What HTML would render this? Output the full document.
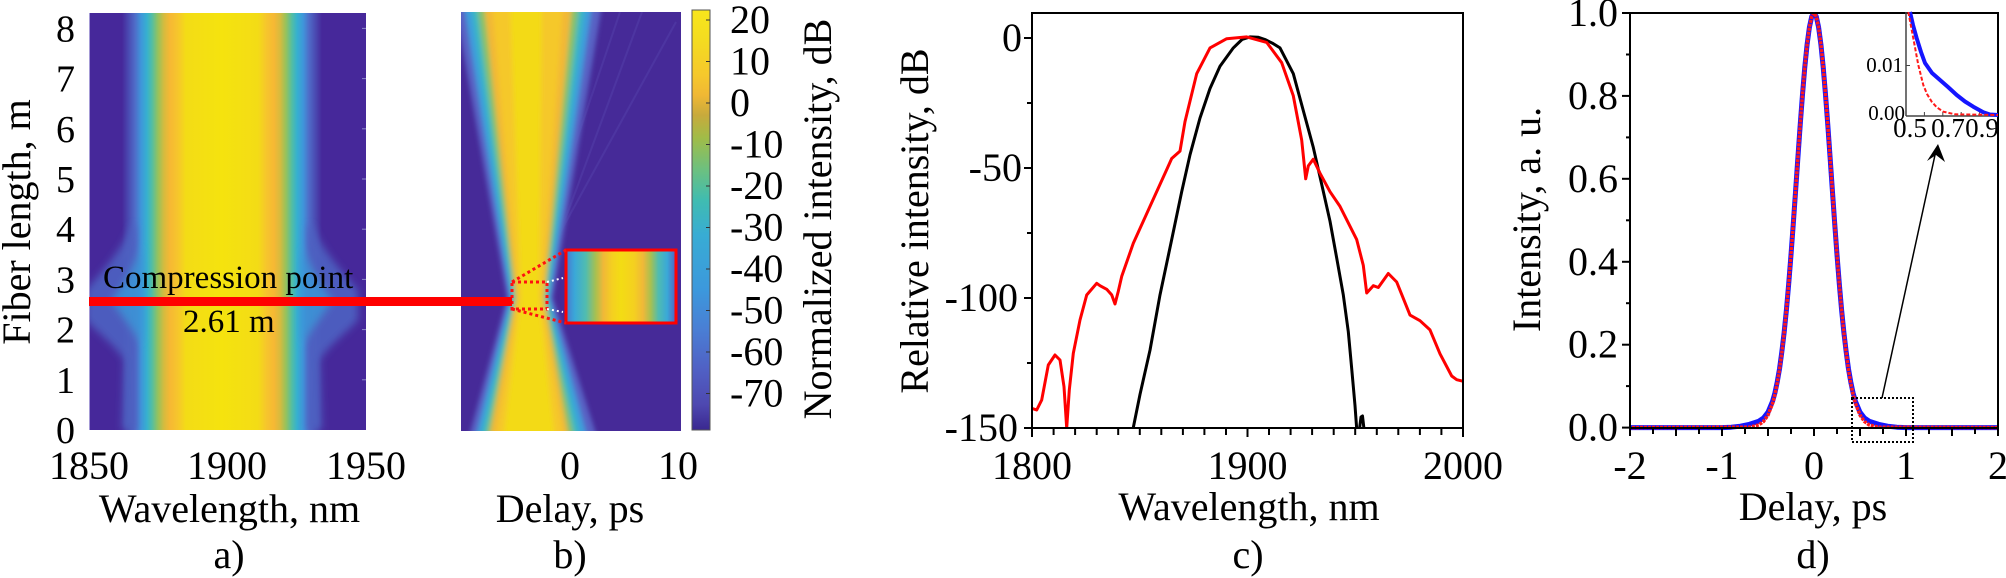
<!DOCTYPE html>
<html><head><meta charset="utf-8"><style>
html,body{margin:0;padding:0;background:#fff;}
svg{display:block;font-family:"Liberation Serif","Times New Roman",Times,"Noto Serif CJK SC","DejaVu Serif",serif;}
svg text{font-family:"Liberation Serif","Times New Roman",Times,"Noto Serif CJK SC","DejaVu Serif",serif;fill:#000;}
</style></head><body>
<svg width="2006" height="578" viewBox="0 0 2006 578" xmlns="http://www.w3.org/2000/svg" font-family="Liberation Serif, Times New Roman, Noto Serif CJK SC, serif">
<defs>
<linearGradient id="gA" gradientUnits="userSpaceOnUse" x1="89" y1="0" x2="366" y2="0">
<stop offset="0" stop-color="#46289a"/>
<stop offset="0.119" stop-color="#46289a"/>
<stop offset="0.141" stop-color="#4a48b0"/>
<stop offset="0.166" stop-color="#4f6cc8"/>
<stop offset="0.188" stop-color="#3f96da"/>
<stop offset="0.209" stop-color="#36b0cf"/>
<stop offset="0.227" stop-color="#52bea4"/>
<stop offset="0.249" stop-color="#96c25c"/>
<stop offset="0.271" stop-color="#d6bb3e"/>
<stop offset="0.292" stop-color="#f6b834"/>
<stop offset="0.321" stop-color="#f6c62c"/>
<stop offset="0.350" stop-color="#f3dc16"/>
<stop offset="0.480" stop-color="#f5e30e"/>
<stop offset="0.610" stop-color="#f3dc16"/>
<stop offset="0.639" stop-color="#f6c62c"/>
<stop offset="0.668" stop-color="#f6b834"/>
<stop offset="0.690" stop-color="#d6bb3e"/>
<stop offset="0.711" stop-color="#96c25c"/>
<stop offset="0.733" stop-color="#52bea4"/>
<stop offset="0.751" stop-color="#36b0cf"/>
<stop offset="0.773" stop-color="#3f96da"/>
<stop offset="0.794" stop-color="#4f6cc8"/>
<stop offset="0.819" stop-color="#4a48b0"/>
<stop offset="0.841" stop-color="#46289a"/>
<stop offset="1" stop-color="#46289a"/>
</linearGradient>
<linearGradient id="gC" gradientUnits="userSpaceOnUse" x1="0" y1="10" x2="0" y2="430">
<stop offset="0" stop-color="#f8e61c"/>
<stop offset="0.071" stop-color="#f4dc20"/>
<stop offset="0.155" stop-color="#f5c82c"/>
<stop offset="0.202" stop-color="#f0b834"/>
<stop offset="0.250" stop-color="#c8aa3c"/>
<stop offset="0.305" stop-color="#a0bc48"/>
<stop offset="0.381" stop-color="#6cc080"/>
<stop offset="0.452" stop-color="#40bcb0"/>
<stop offset="0.536" stop-color="#38acd4"/>
<stop offset="0.667" stop-color="#3c98dc"/>
<stop offset="0.762" stop-color="#4a7ed4"/>
<stop offset="0.857" stop-color="#5060c4"/>
<stop offset="0.940" stop-color="#4e48b0"/>
<stop offset="1" stop-color="#3a2890"/>
</linearGradient>
<linearGradient id="gI" gradientUnits="userSpaceOnUse" x1="566" y1="0" x2="676" y2="0">
<stop offset="0" stop-color="#4a78d0"/>
<stop offset="0.08" stop-color="#3aa8d8"/>
<stop offset="0.18" stop-color="#50bcb0"/>
<stop offset="0.27" stop-color="#a8c050"/>
<stop offset="0.34" stop-color="#f0b838"/>
<stop offset="0.42" stop-color="#f4d020"/>
<stop offset="0.50" stop-color="#f3dc14"/>
<stop offset="0.62" stop-color="#f4d020"/>
<stop offset="0.70" stop-color="#f0b838"/>
<stop offset="0.77" stop-color="#a8c050"/>
<stop offset="0.84" stop-color="#50bcb0"/>
<stop offset="0.92" stop-color="#3aa8d8"/>
<stop offset="1" stop-color="#5060c0"/>
</linearGradient>
<filter id="bl" x="-30%" y="-30%" width="160%" height="160%"><feGaussianBlur stdDeviation="2.5"/></filter>
<filter id="bl4" x="-50%" y="-50%" width="200%" height="200%"><feGaussianBlur stdDeviation="4"/></filter>
<clipPath id="cA"><rect x="89" y="13" width="277" height="417"/></clipPath>
<clipPath id="cB"><rect x="461" y="12" width="220" height="419"/></clipPath>
<clipPath id="cCc"><rect x="1032" y="13" width="431" height="415"/></clipPath>
<clipPath id="cD"><rect x="1630" y="13" width="368" height="418"/></clipPath>
</defs>

<!-- ===== Panel a ===== -->
<g clip-path="url(#cA)">
<rect x="89" y="13" width="277" height="417" fill="url(#gA)"/>
<g filter="url(#bl4)">
  <path d="M132,225 C122,250 102,272 86,290 L86,320 C100,335 115,345 124,360 L122,430 L136,430 L136,225 Z" fill="#4e62c2" opacity="0.9"/>
  <path d="M143,245 C136,265 124,285 112,300 C122,316 134,330 143,345 Z" fill="#3a9ad8" opacity="0.8"/>
  <g transform="translate(444,0) scale(-1,1)">
    <path d="M132,225 C122,250 102,272 86,290 L86,320 C100,335 115,345 124,360 L122,430 L136,430 L136,225 Z" fill="#4e62c2" opacity="0.9"/>
    <path d="M143,245 C136,265 124,285 112,300 C122,316 134,330 143,345 Z" fill="#3a9ad8" opacity="0.8"/>
  </g>
</g>
</g>
<line x1="89.5" y1="13" x2="89.5" y2="430" stroke="#a49ad6" stroke-width="1"/>
<g stroke="#8c86c8" stroke-width="1">
<line x1="362" y1="28.4" x2="366" y2="28.4"/><line x1="362" y1="78.6" x2="366" y2="78.6"/><line x1="362" y1="128.8" x2="366" y2="128.8"/><line x1="362" y1="179" x2="366" y2="179"/><line x1="362" y1="229.2" x2="366" y2="229.2"/><line x1="362" y1="279.4" x2="366" y2="279.4"/><line x1="362" y1="329.6" x2="366" y2="329.6"/><line x1="362" y1="379.8" x2="366" y2="379.8"/>
</g>

<!-- ===== Panel b ===== -->
<g clip-path="url(#cB)">
<rect x="461" y="12" width="220" height="419" fill="#462a98"/>
<g stroke="#5a4cb4" stroke-width="2" opacity="0.35" fill="none">
<line x1="552" y1="255" x2="642" y2="12"/>
<line x1="556" y1="240" x2="676" y2="22"/>
<line x1="548" y1="225" x2="620" y2="12"/>
</g>
<g filter="url(#bl)">
<polygon fill="#5862c4" points="455,5 507,298 468,440 598,440 553,298 602,5"/>
<polygon fill="#3c9edc" points="464,5 510,298 475,440 588,440 550,298 592,5"/>
<polygon fill="#3ab8c2" points="471,5 512,298 480,440 581,440 548,298 585,5"/>
<polygon fill="#86c16a" points="477,5 514,298 485,440 575,440 546,298 579,5"/>
<polygon fill="#f2b834" points="484,5 516,298 489,440 569,440 544,298 572,5"/>
<polygon fill="#f5c82a" points="492,5 518,298 495,440 564,440 542,298 563,5"/>
<polygon fill="#f3da16" points="510,5 521,298 503,440 555,440 539,298 542,5"/>
</g>
</g>
<!-- inset in b -->
<rect x="566" y="250" width="110" height="73" fill="url(#gI)"/>
<rect x="566" y="250" width="110" height="73" fill="none" stroke="#ff0000" stroke-width="3"/>
<rect x="512" y="282" width="35" height="27" fill="none" stroke="#ff1010" stroke-width="3" stroke-dasharray="3 3"/>
<line x1="512" y1="282" x2="566" y2="250" stroke="#ff1010" stroke-width="3" stroke-dasharray="3 3"/>
<line x1="512" y1="309" x2="566" y2="323" stroke="#ff1010" stroke-width="3" stroke-dasharray="3 3"/>
<line x1="547" y1="282" x2="563" y2="278" stroke="#ffffff" stroke-width="2" stroke-dasharray="2 3"/>
<line x1="547" y1="309" x2="563" y2="312" stroke="#ffffff" stroke-width="2" stroke-dasharray="2 3"/>

<!-- red bar -->
<rect x="89" y="297" width="423" height="9" fill="#ff0000"/>
<text x="103" y="288" font-size="33">Compression point</text>
<text x="183" y="332" font-size="33">2.61 m</text>

<!-- colorbar -->
<rect x="692" y="10" width="18" height="420" fill="url(#gC)" stroke="#555" stroke-width="1"/>
<g stroke="#333" stroke-width="1">
<line x1="706" y1="20" x2="710" y2="20"/><line x1="706" y1="61.5" x2="710" y2="61.5"/><line x1="706" y1="103" x2="710" y2="103"/><line x1="706" y1="144.5" x2="710" y2="144.5"/><line x1="706" y1="186" x2="710" y2="186"/><line x1="706" y1="227.5" x2="710" y2="227.5"/><line x1="706" y1="269" x2="710" y2="269"/><line x1="706" y1="310.5" x2="710" y2="310.5"/><line x1="706" y1="352" x2="710" y2="352"/><line x1="706" y1="393.5" x2="710" y2="393.5"/>
</g>
<g font-size="40">
<text x="730" y="33">20</text>
<text x="730" y="74.5">10</text>
<text x="730" y="116">0</text>
<text x="730" y="157.5">-10</text>
<text x="730" y="199">-20</text>
<text x="730" y="240.5">-30</text>
<text x="730" y="282">-40</text>
<text x="730" y="323.5">-50</text>
<text x="730" y="365">-60</text>
<text x="730" y="406.5">-70</text>
</g>
<text font-size="40" text-anchor="middle" transform="translate(831,219) rotate(-90)">Normalized intensity, dB</text>

<!-- panel a/b labels -->
<g font-size="38" text-anchor="end">
<text x="75" y="443">0</text>
<text x="75" y="392.8">1</text>
<text x="75" y="342.6">2</text>
<text x="75" y="292.4">3</text>
<text x="75" y="242.2">4</text>
<text x="75" y="192">5</text>
<text x="75" y="141.8">6</text>
<text x="75" y="91.6">7</text>
<text x="75" y="41.4">8</text>
</g>
<text font-size="40" text-anchor="middle" transform="translate(30,222) rotate(-90)">Fiber length, m</text>
<g font-size="40" text-anchor="middle">
<text x="89" y="479">1850</text>
<text x="227" y="479">1900</text>
<text x="366" y="479">1950</text>
<text x="229.5" y="522">Wavelength, nm</text>
<text x="229" y="568">a)</text>
<text x="570" y="479">0</text>
<text x="678" y="479">10</text>
<text x="570" y="522">Delay, ps</text>
<text x="570" y="568">b)</text>
</g>

<!-- ===== Panel c ===== -->
<g clip-path="url(#cCc)" fill="none" stroke-linejoin="round" stroke-linecap="round">
<path stroke="#000" stroke-width="3" d="M1133.3,427.6 L1140,394.4 1150,350.2 1160,294.9 1171.7,239.6 1181.7,191.7 1190,154.8 1200,118 1210,88.5 1220,66.3 1233.3,47.9 1242,39.5 1250,36.9 1258,37.2 1265,39.5 1273,43.5 1280,47.9 1293.3,73.7 1303.3,110.6 1313.3,147.4 1321.7,184.3 1330,221.2 1336.7,258 1343.3,294.9 1348.3,331.7 1351.7,368.6 1355,405.5 1356.7,429 M1359.5,429 L1361,417 1362.5,416 1364,429"/>
<path stroke="#ff0000" stroke-width="3" d="M1031.7,408.3 L1036.7,410 1041.7,400 1048.3,365 1055,355 1060,360 1064,386.7 1066.7,428 1069.3,390 1073.3,353.3 1080,320 1086.7,295 1096.7,283.3 1100,285.7 1106.7,289.3 1111.7,294.9 1115,304 1118.3,291.2 1121.7,276.4 1133.3,243.3 1150,206.4 1166.7,169.6 1171.7,158.5 1180,151.1 1185,121.6 1196.7,73.7 1210,47.9 1226.7,38.7 1246.7,36.9 1266.7,42.4 1281.7,62.7 1293.3,95.8 1301.7,140.1 1305.7,178.8 1308.3,165.9 1313.3,159.2 1320,173.2 1330,191.7 1340,206.4 1356.7,239.6 1363.3,265.4 1366.7,293 1373.3,285.7 1378.3,287.5 1388.3,273.5 1396.7,282 1410,315.1 1420,320.7 1430,329.9 1440,353.8 1451.7,376 1456.7,379.7 1464,381.5"/>
</g>
<rect x="1032" y="13" width="431" height="415" fill="none" stroke="#000" stroke-width="2"/>
<g stroke="#000" stroke-width="2">
<line x1="1024" y1="38" x2="1032" y2="38"/><line x1="1027" y1="103" x2="1032" y2="103"/><line x1="1024" y1="168" x2="1032" y2="168"/><line x1="1027" y1="233" x2="1032" y2="233"/><line x1="1024" y1="298" x2="1032" y2="298"/><line x1="1027" y1="363" x2="1032" y2="363"/><line x1="1024" y1="428" x2="1032" y2="428"/>
<line x1="1032" y1="428" x2="1032" y2="437"/><line x1="1053.6" y1="428" x2="1053.6" y2="435"/><line x1="1075.1" y1="428" x2="1075.1" y2="435"/><line x1="1096.7" y1="428" x2="1096.7" y2="435"/><line x1="1118.2" y1="428" x2="1118.2" y2="435"/><line x1="1139.8" y1="428" x2="1139.8" y2="435"/><line x1="1161.3" y1="428" x2="1161.3" y2="435"/><line x1="1182.9" y1="428" x2="1182.9" y2="435"/><line x1="1204.4" y1="428" x2="1204.4" y2="435"/><line x1="1226" y1="428" x2="1226" y2="435"/><line x1="1247.5" y1="428" x2="1247.5" y2="437"/><line x1="1269" y1="428" x2="1269" y2="435"/><line x1="1290.6" y1="428" x2="1290.6" y2="435"/><line x1="1312.1" y1="428" x2="1312.1" y2="435"/><line x1="1333.7" y1="428" x2="1333.7" y2="435"/><line x1="1355.2" y1="428" x2="1355.2" y2="435"/><line x1="1376.8" y1="428" x2="1376.8" y2="435"/><line x1="1398.3" y1="428" x2="1398.3" y2="435"/><line x1="1419.9" y1="428" x2="1419.9" y2="435"/><line x1="1441.4" y1="428" x2="1441.4" y2="435"/><line x1="1463" y1="428" x2="1463" y2="437"/>
</g>
<g font-size="40" text-anchor="end">
<text x="1022" y="51">0</text>
<text x="1022" y="181">-50</text>
<text x="1018" y="311">-100</text>
<text x="1018" y="441">-150</text>
</g>
<g font-size="40" text-anchor="middle">
<text x="1032" y="479">1800</text>
<text x="1247.5" y="479">1900</text>
<text x="1463" y="479">2000</text>
<text x="1249" y="520">Wavelength, nm</text>
<text x="1248" y="568">c)</text>
</g>
<text font-size="40" text-anchor="middle" transform="translate(928,221) rotate(-90)">Relative intensity, dB</text>

<!-- ===== Panel d ===== -->
<g clip-path="url(#cD)" fill="none" stroke-linejoin="round">
<path stroke="#1515ff" stroke-width="5" d="M1628,427.6 L1722,427.6 1731.2,427.2 1740.4,426.2 1749.6,424.3 1758.8,421.2 1763.4,418.1 1768,412.2 1772.6,401.2 1774.9,393 1777.2,382.1 1779.5,369 1781.8,352.1 1784.1,332.8 1786.4,310 1788.7,283.8 1791,254.8 1793.3,223.5 1795.6,190.8 1797.9,157.6 1800.2,125 1802.5,94.5 1804.8,67.1 1807.1,44.4 1809.4,27.3 1811.7,16.6 1814,13 1816.3,16.6 1818.6,27.3 1820.9,44.4 1823.2,67.1 1825.5,94.5 1827.8,125 1830.1,157.6 1832.4,190.8 1834.7,223.5 1837,254.8 1839.3,283.8 1841.6,310 1843.9,332.8 1846.2,352.1 1848.5,369 1850.8,382.1 1853.1,393 1855.4,401.2 1860,412.2 1864.6,418.1 1869.2,421.2 1878.4,424.3 1887.6,426.2 1896.8,427.2 1906,427.6 2000,427.6"/>
<path stroke="#ff1a1a" stroke-width="3.5" stroke-dasharray="3 1" d="M1628,427.6 L1749.6,427.2 1758.8,424.9 1763.4,421.6 1768,415.1 1772.6,403.3 1774.9,394.5 1777.2,383.4 1779.5,369.7 1781.8,353 1784.1,333.1 1786.4,310 1788.7,283.8 1791,254.8 1793.3,223.5 1795.6,190.8 1797.9,157.6 1800.2,125 1802.5,94.5 1804.8,67.1 1807.1,44.4 1809.4,27.3 1811.7,16.6 1814,13 1816.3,16.6 1818.6,27.3 1820.9,44.4 1823.2,67.1 1825.5,94.5 1827.8,125 1830.1,157.6 1832.4,190.8 1834.7,223.5 1837,254.8 1839.3,283.8 1841.6,310 1843.9,333.1 1846.2,353 1848.5,369.7 1850.8,383.4 1853.1,394.5 1855.4,403.3 1860,415.1 1864.6,421.6 1869.2,424.9 1878.4,427.2 2000,427.6"/>
</g>
<rect x="1630" y="13" width="368" height="415" fill="none" stroke="#000" stroke-width="2"/>
<g stroke="#000" stroke-width="2">
<line x1="1622" y1="427.6" x2="1630" y2="427.6"/><line x1="1626" y1="386.1" x2="1630" y2="386.1"/><line x1="1622" y1="344.7" x2="1630" y2="344.7"/><line x1="1626" y1="303.2" x2="1630" y2="303.2"/><line x1="1622" y1="261.8" x2="1630" y2="261.8"/><line x1="1626" y1="220.3" x2="1630" y2="220.3"/><line x1="1622" y1="178.8" x2="1630" y2="178.8"/><line x1="1626" y1="137.4" x2="1630" y2="137.4"/><line x1="1622" y1="95.9" x2="1630" y2="95.9"/><line x1="1626" y1="54.5" x2="1630" y2="54.5"/><line x1="1622" y1="13" x2="1630" y2="13"/>
<line x1="1630" y1="428" x2="1630" y2="436"/><line x1="1653" y1="428" x2="1653" y2="434"/><line x1="1676" y1="428" x2="1676" y2="436"/><line x1="1699" y1="428" x2="1699" y2="434"/><line x1="1722" y1="428" x2="1722" y2="436"/><line x1="1745" y1="428" x2="1745" y2="434"/><line x1="1768" y1="428" x2="1768" y2="436"/><line x1="1791" y1="428" x2="1791" y2="434"/><line x1="1814" y1="428" x2="1814" y2="436"/><line x1="1837" y1="428" x2="1837" y2="434"/><line x1="1860" y1="428" x2="1860" y2="436"/><line x1="1883" y1="428" x2="1883" y2="434"/><line x1="1906" y1="428" x2="1906" y2="436"/><line x1="1929" y1="428" x2="1929" y2="434"/><line x1="1952" y1="428" x2="1952" y2="436"/><line x1="1975" y1="428" x2="1975" y2="434"/><line x1="1998" y1="428" x2="1998" y2="436"/>
</g>
<g font-size="40" text-anchor="end">
<text x="1618" y="440.6">0.0</text>
<text x="1618" y="357.7">0.2</text>
<text x="1618" y="274.8">0.4</text>
<text x="1618" y="191.8">0.6</text>
<text x="1618" y="108.9">0.8</text>
<text x="1618" y="26">1.0</text>
</g>
<g font-size="40" text-anchor="middle">
<text x="1630" y="479">-2</text>
<text x="1722" y="479">-1</text>
<text x="1814" y="479">0</text>
<text x="1906" y="479">1</text>
<text x="1998" y="479">2</text>
<text x="1813" y="520">Delay, ps</text>
<text x="1813" y="568">d)</text>
</g>
<text font-size="40" text-anchor="middle" transform="translate(1540,219.5) rotate(-90)">Intensity, a. u.</text>

<!-- dotted zoom box + arrow -->
<rect x="1852" y="398" width="61" height="44" fill="none" stroke="#000" stroke-width="2" stroke-dasharray="2 2"/>
<line x1="1882" y1="398" x2="1935" y2="155" stroke="#000" stroke-width="1.5"/>
<polygon points="1938,144 1927,161 1936,155 1945,162" fill="#000"/>

<!-- inset in d -->
<g fill="none" stroke-linejoin="round">
<line x1="1906" y1="12" x2="1906" y2="116" stroke="#444" stroke-width="1.5"/>
<line x1="1906" y1="116" x2="1998" y2="116" stroke="#444" stroke-width="1.5"/>
<g stroke="#444" stroke-width="1">
<line x1="1906" y1="65.5" x2="1910" y2="65.5"/>
<line x1="1924.4" y1="116" x2="1924.4" y2="112"/><line x1="1942.8" y1="116" x2="1942.8" y2="112"/><line x1="1961.2" y1="116" x2="1961.2" y2="112"/><line x1="1979.6" y1="116" x2="1979.6" y2="112"/>
</g>
<path stroke="#1515ff" stroke-width="4" d="M1910,12 L1913,25 1916.7,38.3 1921,52 1925,63 1932,73 1940,80 1948,87 1956.7,95 1965,101.5 1973.3,106.7 1983.3,112.3 1990,114.5 1998,115"/>
<path stroke="#ff1a1a" stroke-width="2" stroke-dasharray="4 2" d="M1908.3,12 L1913.3,38.3 1918.3,65 1923.3,85 1927,94 1931.7,101.7 1937,107.5 1943.3,111.7 1955,114.3 1998,115"/>
</g>
<text x="1903" y="72" font-size="21" text-anchor="end">0.01</text>
<text x="1905" y="120" font-size="21" text-anchor="end">0.00</text>
<g font-size="27" text-anchor="middle">
<text x="1910" y="137">0.5</text>
<text x="1948" y="137">0.7</text>
<text x="1982" y="137">0.9</text>
</g>
</svg>
</body></html>
